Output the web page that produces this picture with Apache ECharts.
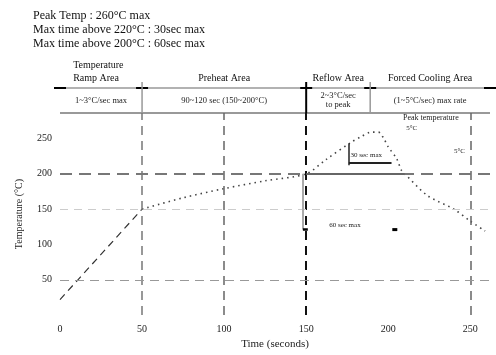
<!DOCTYPE html>
<html>
<head>
<meta charset="utf-8">
<script src="https://cdn.jsdelivr.net/npm/echarts@6/dist/echarts.min.js"></script>
<style>
  html, body { margin: 0; padding: 0; background: #fff; }
  #chart { width: 496px; height: 355px; }
</style>
</head>
<body>
<div id="chart"></div>
<script>
// 升温段 (0~50s)
const rampData = [[0, 22], [50, 150]];
// 预热 + 回流 + 冷却 曲线
const profileData = [
  [50, 150], [75, 166], [100, 179], [125, 190], [150, 200],
  [162, 220], [177, 244], [183, 252], [190, 259], [194, 259],
  [197, 251], [200, 238], [205, 222], [208, 205], [210, 200],
  [224, 169], [240, 150], [250, 133], [259, 119]
];
const xTicks = [0, 50, 100, 150, 200, 250];
const yTicks = [50, 100, 150, 200, 250];
const titleLines = [
  'Peak Temp : 260°C max',
  'Max time above 220°C : 30sec max',
  'Max time above 200°C : 60sec max'
];
// 区域边界 (秒)
const zoneEdges = [0, 50, 150, 189, 262];
const zoneNames = ['Temperature\nRamp Area', 'Preheat Area', 'Reflow Area', 'Forced Cooling Area'];
const zoneSpecs = ['1~3°C/sec max', '90~120 sec (150~200°C)', '2~3°C/sec\nto peak', '(1~5°C/sec) max rate'];

const FONT = 'Liberation Serif';
const chart = echarts.init(document.getElementById('chart'));

const dash = (x1, y1, x2, y2, color, width, type) => [
  { coord: [x1, y1], lineStyle: { color: color, width: width, type: type } },
  { coord: [x2, y2] }
];

const option = {
  animation: false,
  textStyle: { fontFamily: FONT },
  grid: { left: 60, right: 6, top: 113, bottom: 36 },
  xAxis: {
    type: 'value', min: 0, max: 262, interval: 50,
    name: 'Time (seconds)', nameLocation: 'middle', nameGap: 21,
    nameTextStyle: { fontFamily: FONT, fontSize: 11, color: '#222' },
    axisLine: { show: false }, axisTick: { show: false }, splitLine: { show: false },
    axisLabel: {
      fontFamily: FONT, fontSize: 10, color: '#222', showMaxLabel: false, margin: 9,
      formatter: v => xTicks.includes(v) ? String(v) : ''
    }
  },
  yAxis: {
    type: 'value', min: 0, max: 286, interval: 50,
    name: 'Temperature (°C)', nameLocation: 'middle', nameGap: 36,
    nameTextStyle: { fontFamily: FONT, fontSize: 10, color: '#222' },
    axisLine: { show: false }, axisTick: { show: false }, splitLine: { show: false },
    axisLabel: {
      fontFamily: FONT, fontSize: 10, color: '#222', showMaxLabel: false, margin: 8,
      formatter: v => yTicks.includes(v) ? String(v) : ''
    }
  },
  series: [
    {
      type: 'line', data: rampData, symbol: 'none',
      lineStyle: { color: '#333', width: 1.2, type: [7, 5] },
      markLine: {
        silent: true, symbol: 'none', label: { show: false },
        data: [
          dash(50, 0, 50, 286, '#777', 1.5, [9, 6]),
          dash(100, 0, 100, 286, '#666', 1.5, [9, 6]),
          dash(150, 0, 150, 286, '#111', 2, [9, 6]),
          dash(250, 0, 250, 286, '#666', 1.5, [9, 6]),
          dash(0, 200, 262, 200, '#777', 2, [12, 7]),
          dash(0, 150, 262, 150, '#ccc', 1, [8, 6]),
          dash(0, 50, 262, 50, '#999', 1.2, [9, 6]),
          dash(150, 200, 210, 200, '#666', 2, 'solid'),
          dash(148, 200, 148, 121, '#aaa', 2, 'solid'),
          dash(148, 121, 151, 121, '#000', 2.5, 'solid'),
          dash(176, 243, 176, 212, '#222', 1.5, 'solid'),
          dash(176, 216, 202, 216, '#222', 2, 'solid')
        ]
      }
    },
    {
      type: 'line', data: profileData, symbol: 'none', smooth: 0.3,
      lineStyle: { color: '#444', width: 1.6, type: [1.5, 4] },
      markPoint: {
        silent: true, symbol: 'rect', symbolSize: [5, 3],
        itemStyle: { color: '#000' }, label: { show: false },
        data: [{ coord: [204, 121] }]
      }
    }
  ],
  graphic: []
};
chart.setOption(option);

// 表格与注释 (位置按坐标换算)
const px = v => chart.convertToPixel({ xAxisIndex: 0 }, v);
const py = v => chart.convertToPixel({ yAxisIndex: 0 }, v);
const g = [];
titleLines.forEach((t, i) => {
  g.push({ type: 'text', left: 33, top: 10 + i * 14,
    style: { text: t, font: '12px "' + FONT + '"', fill: '#111' } });
});
const tableTop = 88, tableBottom = 113;
g.push({ type: 'line', shape: { x1: px(0), y1: tableTop, x2: px(262), y2: tableTop },
  style: { stroke: '#999', lineWidth: 1.5 } });
g.push({ type: 'line', shape: { x1: px(0), y1: tableBottom, x2: px(262), y2: tableBottom },
  style: { stroke: '#999', lineWidth: 2 } });
zoneEdges.forEach((e, i) => {
  g.push({ type: 'line', shape: { x1: px(e) - 6, y1: tableTop, x2: px(e) + 6, y2: tableTop },
    style: { stroke: '#000', lineWidth: 2 } });
  if (i > 0 && i < zoneEdges.length - 1) {
    g.push({ type: 'line', shape: { x1: px(e), y1: tableTop - 6, x2: px(e), y2: tableBottom },
      style: { stroke: e === 150 ? '#000' : '#999', lineWidth: e === 150 ? 2 : 1.5 } });
  }
});
zoneNames.forEach((n, i) => {
  const cx = (px(zoneEdges[i]) + px(zoneEdges[i + 1])) / 2;
  g.push({ type: 'text', x: i === 0 ? px(8) : cx, y: tableTop - 3,
    style: { text: n, font: '10px "' + FONT + '"', fill: '#111',
      align: i === 0 ? 'left' : 'center', verticalAlign: 'bottom', lineHeight: 13 } });
  g.push({ type: 'text', x: cx, y: (tableTop + tableBottom) / 2,
    style: { text: zoneSpecs[i], font: '8.5px "' + FONT + '"', fill: '#222',
      align: 'center', verticalAlign: 'middle', lineHeight: 9 } });
});
const note = (t, x, y, size) => g.push({ type: 'text', x: px(x), y: py(y),
  style: { text: t, font: size + 'px "' + FONT + '"', fill: '#222', align: 'left', verticalAlign: 'middle' } });
note('Peak temperature', 209, 279, 8);
note('5°C', 211, 265, 7);
note('5°C', 240, 232, 7);
note('30 sec max', 177, 226, 7);
note('60 sec max', 164, 127, 7);
g.forEach(o => { o.silent = true; });
chart.setOption({ graphic: g });
</script>
</body>
</html>
